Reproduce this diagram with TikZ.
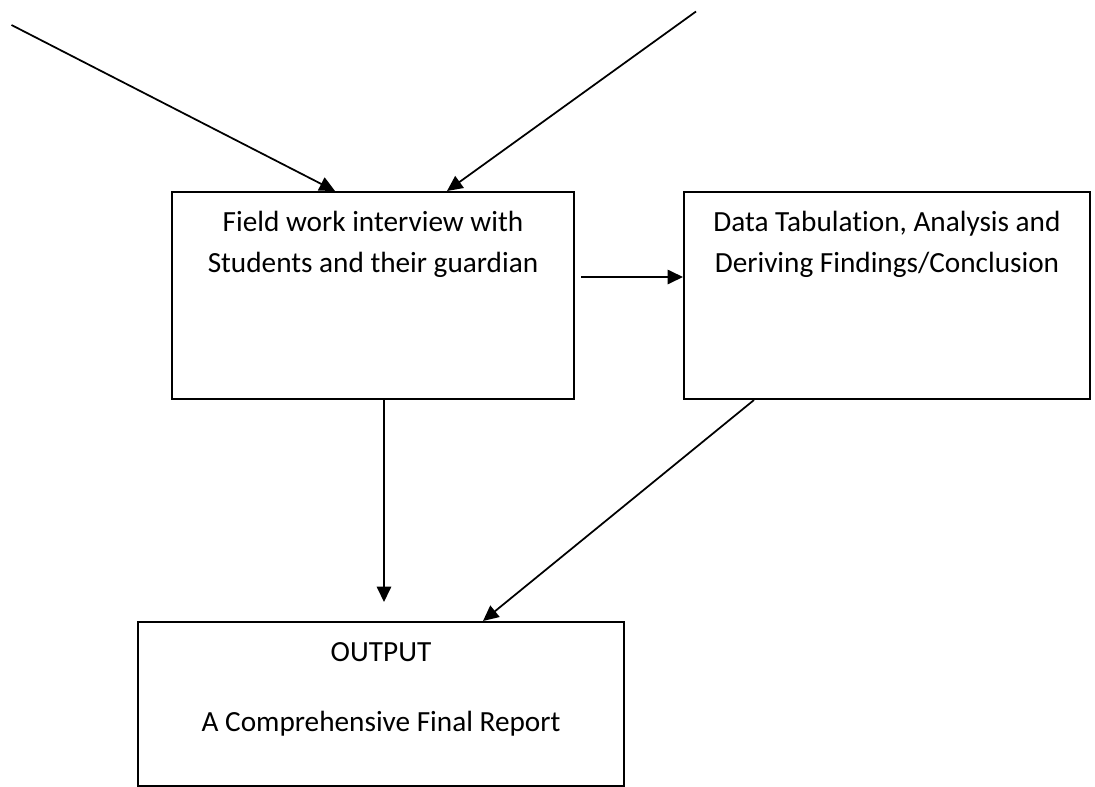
\documentclass[tikz,border=0pt]{standalone}
\usepackage{fontspec}
\setmainfont[Ligatures={NoCommon}]{Carlito}
\usetikzlibrary{arrows.meta}
\begin{document}
\begin{tikzpicture}[x=0.4pt,y=-0.4pt,
  box/.style={draw=black,line width=0.8pt,inner sep=0pt,minimum width=#1},
  lbl/.style={anchor=base,inner sep=0pt,font=\fontsize{11.7}{14}\selectfont},
  conn/.style={line width=0.7pt,-{Triangle[length=6.2pt,width=5.8pt]}}]
\useasboundingbox (0,0) rectangle (1095,787);
% boxes
\node[box=160.8pt,minimum height=82.8pt] (A) at (373,295.5) {};
\node[box=162.4pt,minimum height=82.8pt] (B) at (887,295.5) {};
\node[box=194.4pt,minimum height=65.6pt] (C) at (381,704) {};
% texts
\node[lbl] (a1) at (373,231) {Field work interview with};
\node[lbl] (a2) at (373,272) {Students and their guardian};
\node[lbl] (b1) at (887,231) {Data Tabulation, Analysis and};
\node[lbl] (b2) at (887,272) {Deriving Findings/Conclusion};
\node[lbl] (c1) at (381,661) {OUTPUT};
\node[lbl] (c2) at (381,731) {A Comprehensive Final Report};
% free ends
\coordinate (s1) at (11.5,25);
\coordinate (s2) at (696,11.5);
% connectors
\draw[conn] (s1) -- ([xshift=-15.2pt]A.north);
\draw[conn] (s2) -- ([xshift=29.6pt]A.north);
\draw[conn] ([xshift=2.4pt,yshift=7.4pt]A.east) -- ([yshift=7.4pt]B.west);
\draw[conn] ([xshift=4.4pt]A.south) -- ([xshift=1.2pt,yshift=7.6pt]C.north);
\draw[conn] ([xshift=-53.2pt]B.south) -- ([xshift=40.8pt]C.north);
\end{tikzpicture}
\end{document}
